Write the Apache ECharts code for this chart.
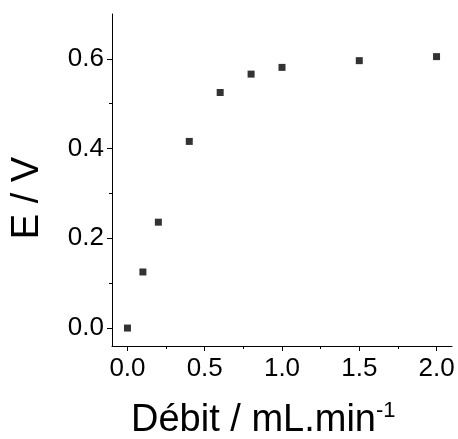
<!DOCTYPE html>
<html>
<head>
<meta charset="utf-8">
<script src="https://cdn.jsdelivr.net/npm/echarts@6/dist/echarts.min.js"></script>
<style>
html,body{margin:0;padding:0;background:#fff;}
#c{width:458px;height:439px;}
</style>
</head>
<body>
<div id="c"></div>
<script>
// Data
const flowRates = [0, 0.1, 0.2, 0.4, 0.6, 0.8, 1.0, 1.5, 2.0];
const potentials = [0.0, 0.125, 0.236, 0.416, 0.525, 0.566, 0.581, 0.596, 0.605];
const xMajorTicks = [0, 0.5, 1.0, 1.5, 2.0];
const xMinorTicks = [0.25, 0.75, 1.25, 1.75];
const yMajorTicks = [0, 0.2, 0.4, 0.6];
const yMinorTicks = [0.1, 0.3, 0.5];
const xTitle = 'Débit / mL.min';
const xTitleSup = '-1';
const yTitle = 'E / V';

const FONT = 'Liberation Sans, Arial, sans-serif';
const chart = echarts.init(document.getElementById('c'), null, {renderer: 'canvas'});

const X_MIN = -0.1, X_MAX = 2.1, Y_MIN = -0.04, Y_MAX = 0.70;

const option = {
  animation: false,
  backgroundColor: '#fff',
  grid: {left: 112, right: 6, top: 14, bottom: 93, containLabel: false, outerBoundsMode: 'none'},
  xAxis: [
    {
      type: 'value', min: X_MIN, max: X_MAX,
      axisLine: {show: true, onZero: false, lineStyle: {color: '#000', width: 1}},
      axisTick: {show: true, customValues: xMajorTicks, length: 5, lineStyle: {color: '#000'}},
      axisLabel: {customValues: xMajorTicks, color: '#000', fontFamily: FONT, fontSize: 26, margin: 10,
        formatter: v => v.toFixed(1)},
      splitLine: {show: false}
    },
    {
      type: 'value', min: X_MIN, max: X_MAX, position: 'bottom',
      axisLine: {show: false, onZero: false},
      axisTick: {show: true, customValues: xMinorTicks, length: 3, lineStyle: {color: '#000'}},
      axisLabel: {show: false},
      splitLine: {show: false}
    }
  ],
  yAxis: [
    {
      type: 'value', min: Y_MIN, max: Y_MAX,
      axisLine: {show: true, onZero: false, lineStyle: {color: '#000', width: 1}},
      axisTick: {show: true, customValues: yMajorTicks, length: 5, lineStyle: {color: '#000'}},
      axisLabel: {customValues: yMajorTicks, color: '#000', fontFamily: FONT, fontSize: 26, margin: 8,
        formatter: v => v.toFixed(1)},
      splitLine: {show: false}
    },
    {
      type: 'value', min: Y_MIN, max: Y_MAX, position: 'left',
      axisLine: {show: false, onZero: false},
      axisTick: {show: true, customValues: yMinorTicks, length: 3, lineStyle: {color: '#000'}},
      axisLabel: {show: false},
      splitLine: {show: false}
    }
  ],
  graphic: [
    {
      type: 'text', left: 131, top: 400,
      style: {
        text: '{a|' + xTitle + '}{s|' + xTitleSup + '}',
        rich: {
          a: {fontFamily: FONT, fontSize: 38, fill: '#000', verticalAlign: 'bottom', lineHeight: 40},
          s: {fontFamily: FONT, fontSize: 22, fill: '#000', verticalAlign: 'top', lineHeight: 40, padding: [0, 0, 16, 0]}
        }
      }
    },
    {
      type: 'text', x: 28, y: 198, rotation: Math.PI / 2,
      style: {text: yTitle, fontFamily: FONT, fontSize: 38, fill: '#000', align: 'center', verticalAlign: 'middle'}
    }
  ],
  series: [{
    type: 'scatter',
    data: flowRates.map((x, i) => [x, potentials[i]]),
    symbol: 'rect', symbolSize: 7,
    itemStyle: {color: '#000'}
  }]
};
chart.setOption(option);
</script>
</body>
</html>
